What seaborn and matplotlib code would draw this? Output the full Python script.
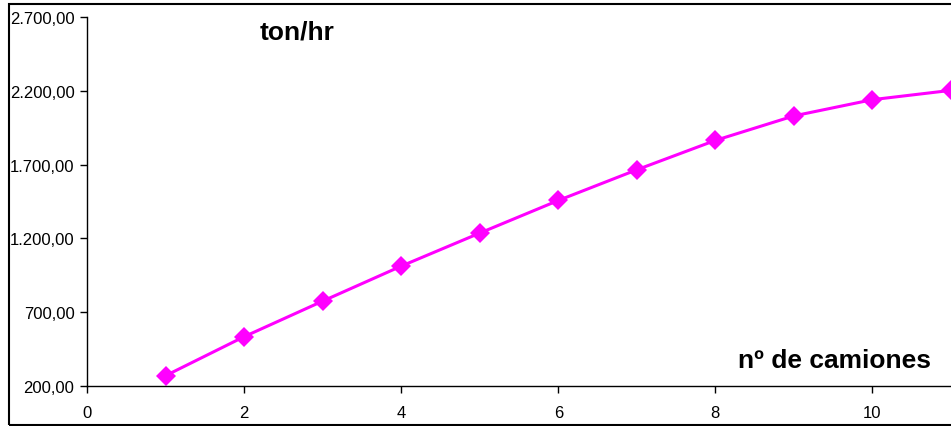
import matplotlib
matplotlib.use("Agg")
import matplotlib.pyplot as plt
import seaborn as sns
import pandas as pd
from matplotlib.patches import Rectangle

camiones = [1, 2, 3, 4, 5, 6, 7, 8, 9, 10, 11]
ton_hr = [270, 534, 775, 1012, 1236, 1457, 1665, 1864, 2030, 2140, 2203]
x_ticks = [0, 2, 4, 6, 8, 10]
y_ticks = [200, 700, 1200, 1700, 2200, 2700]
y_labels = ["200,00", "700,00", "1.200,00", "1.700,00", "2.200,00", "2.700,00"]

sns.set_theme(style="white")
plt.rcParams['font.family'] = ['Liberation Sans', 'DejaVu Sans']

df = pd.DataFrame({"camiones": camiones, "ton_hr": ton_hr})

fig = plt.figure(figsize=(9.51, 4.27), dpi=100)
ax = fig.add_axes([87/951, 1-387/427, 1-87/951, (387-18)/427])

sns.lineplot(data=df, x="camiones", y="ton_hr", ax=ax, color="#FF00FF",
             linewidth=2.2, marker="D", markersize=10.5, markeredgewidth=0,
             clip_on=False)

ax.set_xlim(0, 11)
ax.set_ylim(200, 2700)
ax.set_xticks(x_ticks)
ax.set_xticklabels([str(v) for v in x_ticks])
ax.set_yticks(y_ticks)
ax.set_yticklabels(y_labels)
ax.set_xlabel("")
ax.set_ylabel("")
for s in ["top", "right"]:
    ax.spines[s].set_visible(False)
for s in ["left", "bottom"]:
    ax.spines[s].set_color("black")
    ax.spines[s].set_linewidth(1.0)
ax.tick_params(axis="both", direction="out", length=5, width=1, color="black",
               labelsize=12, labelcolor="black")
ax.tick_params(axis="x", bottom=True, pad=9)
ax.tick_params(axis="y", left=True, pad=4)

fig.text(260/951, 1-39/427, "ton/hr", fontsize=19, fontweight="bold",
         color="black", ha="left", va="baseline")
fig.text(738/951, 1-368/427, "nº de camiones", fontsize=19, fontweight="bold",
         color="black", ha="left", va="baseline")

fig.patches.append(Rectangle((9/951, 1/427), 1.0, 1-6/427, transform=fig.transFigure,
                             fill=False, edgecolor="black", linewidth=1.5))

fig.savefig("out.png", dpi=100)
